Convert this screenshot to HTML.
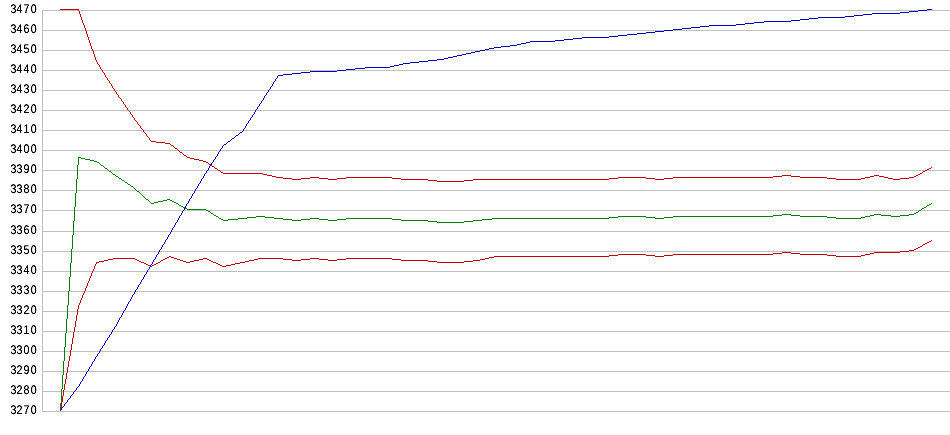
<!DOCTYPE html>
<html><head><meta charset="utf-8"><title>chart</title>
<style>
html,body{margin:0;padding:0;background:#fff;}
body{width:950px;height:435px;overflow:hidden;position:relative;font-family:"Liberation Sans",Arial,sans-serif;}
svg{position:absolute;left:0;top:0;display:block}
.g rect{fill:#c0c0c0}
text{font-family:"Liberation Sans",Arial,sans-serif;font-size:12.5px;fill:#000;letter-spacing:0}
</style></head><body>
<svg width="950" height="435" viewBox="0 0 950 435" shape-rendering="crispEdges">
<rect width="950" height="435" fill="#fff"/>
<g class="g">
<rect x="42" y="10" width="908" height="1"/>
<rect x="42" y="30" width="908" height="1"/>
<rect x="42" y="50" width="908" height="1"/>
<rect x="42" y="70" width="908" height="1"/>
<rect x="42" y="90" width="908" height="1"/>
<rect x="42" y="110" width="908" height="1"/>
<rect x="42" y="130" width="908" height="1"/>
<rect x="42" y="150" width="908" height="1"/>
<rect x="42" y="170" width="908" height="1"/>
<rect x="42" y="190" width="908" height="1"/>
<rect x="42" y="210" width="908" height="1"/>
<rect x="42" y="231" width="908" height="1"/>
<rect x="42" y="251" width="908" height="1"/>
<rect x="42" y="271" width="908" height="1"/>
<rect x="42" y="291" width="908" height="1"/>
<rect x="42" y="311" width="908" height="1"/>
<rect x="42" y="331" width="908" height="1"/>
<rect x="42" y="351" width="908" height="1"/>
<rect x="42" y="371" width="908" height="1"/>
<rect x="42" y="391" width="908" height="1"/>
<rect x="42" y="411" width="908" height="1"/>
<rect x="42" y="10" width="1" height="402"/>
</g>
<path fill="#008000" d="M782 214h9v1h-9zM874 214h7v1h-7zM909 214h5v1h-5zM221 219h2v1h-2zM228 219h10v1h-10zM283 219h9v1h-9zM301 219h9v1h-9zM319 219h9v1h-9zM337 219h9v1h-9zM392 219h9v1h-9zM482 219h10v1h-10zM216 216h2v1h-2zM256 216h9v1h-9zM618 216h28v1h-28zM673 216h100v1h-100zM800 216h27v1h-27zM865 216h5v1h-5zM891 216h9v1h-9zM223 220h5v1h-5zM292 220h9v1h-9zM328 220h9v1h-9zM401 220h27v1h-27zM473 220h9v1h-9zM437 222h27v1h-27zM219 218h2v1h-2zM238 218h9v1h-9zM274 218h9v1h-9zM310 218h9v1h-9zM346 218h46v1h-46zM492 218h117v1h-117zM655 218h9v1h-9zM836 218h25v1h-25zM214 215h2v1h-2zM773 215h9v1h-9zM791 215h9v1h-9zM870 215h4v1h-4zM881 215h10v1h-10zM900 215h9v1h-9zM247 217h9v1h-9zM265 217h9v1h-9zM609 217h9v1h-9zM646 217h9v1h-9zM664 217h9v1h-9zM827 217h9v1h-9zM861 217h4v1h-4zM206 210h2v1h-2zM919 210h2v1h-2zM183 207h2v1h-2zM924 207h2v1h-2zM113 174h2v1h-2zM154 202h4v1h-4zM174 202h2v1h-2zM187 209h19v1h-19zM179 205h2v1h-2zM927 205h2v1h-2zM116 176h2v1h-2zM78 157h3v1h-3zM97 162h2v1h-2zM131 186h2v1h-2zM151 203h3v1h-3zM176 203h2v1h-2zM94 161h3v1h-3zM146 199h2v1h-2zM167 199h3v1h-3zM81 158h4v1h-4zM428 221h9v1h-9zM464 221h9v1h-9zM85 159h5v1h-5zM119 178h2v1h-2zM163 200h4v1h-4zM170 200h2v1h-2zM125 182h2v1h-2zM90 160h4v1h-4zM916 212h2v1h-2zM105 168h2v1h-2zM137 191h2v1h-2zM122 180h2v1h-2zM929 204h2v1h-2zM185 208h2v1h-2zM922 208h2v1h-2zM208 211h2v1h-2zM158 201h5v1h-5zM172 201h2v1h-2zM128 184h2v1h-2zM181 206h2v1h-2zM109 171h2v1h-2zM211 213h2v1h-2zM914 213h2v1h-2zM101 165h2v1h-2zM74 207h1v14h-1zM213 214h1v1h-1zM66 319h1v14h-1zM62 375h1v14h-1zM60 403h1v8h-1zM67 305h1v14h-1zM73 221h1v14h-1zM218 217h1v1h-1zM77 165h1v14h-1zM61 389h1v14h-1zM75 193h1v14h-1zM150 202h1v1h-1zM921 209h1v1h-1zM72 235h1v14h-1zM78 158h1v7h-1zM112 173h1v1h-1zM76 179h1v14h-1zM931 203h1v1h-1zM65 333h1v14h-1zM71 249h1v14h-1zM108 170h1v1h-1zM127 183h1v1h-1zM130 185h1v1h-1zM142 195h1v1h-1zM70 263h1v14h-1zM64 347h1v14h-1zM148 200h1v1h-1zM63 361h1v14h-1zM210 212h1v1h-1zM141 194h1v1h-1zM118 177h1v1h-1zM104 167h1v1h-1zM135 189h1v1h-1zM111 172h1v1h-1zM178 204h1v1h-1zM103 166h1v1h-1zM140 193h1v1h-1zM69 277h1v14h-1zM918 211h1v1h-1zM149 201h1v1h-1zM68 291h1v14h-1zM144 197h1v1h-1zM926 206h1v1h-1zM99 163h1v1h-1zM121 179h1v1h-1zM134 188h1v1h-1zM143 196h1v1h-1zM100 164h1v1h-1zM124 181h1v1h-1zM115 175h1v1h-1zM145 198h1v1h-1zM139 192h1v1h-1zM133 187h1v1h-1zM107 169h1v1h-1zM136 190h1v1h-1z"/>
<path fill="#c00000" d="M609 255h9v1h-9zM646 255h9v1h-9zM664 255h9v1h-9zM827 255h9v1h-9zM861 255h4v1h-4zM99 261h5v1h-5zM139 261h2v1h-2zM183 261h3v1h-3zM190 261h4v1h-4zM211 261h2v1h-2zM245 261h4v1h-4zM428 261h9v1h-9zM464 261h9v1h-9zM618 254h28v1h-28zM673 254h100v1h-100zM800 254h27v1h-27zM865 254h5v1h-5zM144 263h2v1h-2zM156 263h2v1h-2zM216 263h2v1h-2zM235 263h5v1h-5zM104 260h4v1h-4zM137 260h2v1h-2zM161 260h2v1h-2zM180 260h3v1h-3zM194 260h5v1h-5zM209 260h2v1h-2zM249 260h5v1h-5zM292 260h9v1h-9zM328 260h9v1h-9zM401 260h27v1h-27zM473 260h7v1h-7zM113 258h22v1h-22zM165 258h2v1h-2zM174 258h3v1h-3zM203 258h4v1h-4zM258 258h25v1h-25zM310 258h9v1h-9zM346 258h46v1h-46zM485 258h4v1h-4zM169 256h2v1h-2zM494 256h115v1h-115zM655 256h9v1h-9zM836 256h25v1h-25zM773 253h9v1h-9zM791 253h9v1h-9zM870 253h4v1h-4zM108 259h5v1h-5zM135 259h2v1h-2zM163 259h2v1h-2zM177 259h3v1h-3zM199 259h4v1h-4zM207 259h2v1h-2zM254 259h4v1h-4zM283 259h9v1h-9zM301 259h9v1h-9zM319 259h9v1h-9zM337 259h9v1h-9zM392 259h9v1h-9zM480 259h5v1h-5zM96 262h3v1h-3zM141 262h3v1h-3zM158 262h2v1h-2zM186 262h4v1h-4zM213 262h3v1h-3zM240 262h5v1h-5zM437 262h27v1h-27zM148 265h2v1h-2zM152 265h2v1h-2zM220 265h2v1h-2zM226 265h5v1h-5zM900 251h9v1h-9zM782 252h9v1h-9zM874 252h26v1h-26zM146 264h2v1h-2zM154 264h2v1h-2zM218 264h2v1h-2zM231 264h4v1h-4zM927 242h2v1h-2zM918 247h2v1h-2zM923 244h2v1h-2zM167 257h2v1h-2zM171 257h3v1h-3zM489 257h5v1h-5zM150 266h2v1h-2zM222 266h4v1h-4zM914 249h2v1h-2zM929 241h2v1h-2zM925 243h2v1h-2zM909 250h5v1h-5zM920 246h2v1h-2zM916 248h2v1h-2zM160 261h1v1h-1zM60 408h1v3h-1zM78 305h1v4h-1zM96 263h1v1h-1zM64 384h1v6h-1zM931 240h1v1h-1zM94 266h1v3h-1zM65 379h1v5h-1zM69 356h1v5h-1zM95 264h1v2h-1zM87 283h1v3h-1zM86 286h1v2h-1zM74 327h1v5h-1zM68 361h1v6h-1zM73 332h1v6h-1zM63 390h1v6h-1zM77 309h1v6h-1zM85 288h1v3h-1zM93 269h1v2h-1zM72 338h1v6h-1zM76 315h1v6h-1zM67 367h1v6h-1zM71 344h1v6h-1zM81 298h1v2h-1zM84 291h1v2h-1zM75 321h1v6h-1zM61 402h1v6h-1zM62 396h1v6h-1zM66 373h1v6h-1zM80 300h1v3h-1zM922 245h1v1h-1zM92 271h1v2h-1zM70 350h1v6h-1zM83 293h1v2h-1zM82 295h1v3h-1zM91 273h1v3h-1zM90 276h1v2h-1zM79 303h1v2h-1zM89 278h1v3h-1zM88 281h1v2h-1z"/>
<path fill="#0000c0" d="M918 10h9v1h-9zM691 27h9v1h-9zM709 25h27v1h-27zM872 13h28v1h-28zM337 70h9v1h-9zM530 41h25v1h-25zM403 63h7v1h-7zM475 51h5v1h-5zM700 26h9v1h-9zM510 45h7v1h-7zM646 32h9v1h-9zM365 67h25v1h-25zM355 68h10v1h-10zM764 21h27v1h-27zM310 71h27v1h-27zM818 17h27v1h-27zM283 74h9v1h-9zM419 61h9v1h-9zM927 9h5v1h-5zM655 31h9v1h-9zM390 66h4v1h-4zM582 37h27v1h-27zM494 47h7v1h-7zM900 12h9v1h-9zM346 69h9v1h-9zM462 54h4v1h-4zM555 40h9v1h-9zM410 62h9v1h-9zM301 72h9v1h-9zM800 19h9v1h-9zM489 48h5v1h-5zM618 35h9v1h-9zM754 22h10v1h-10zM609 36h9v1h-9zM682 28h9v1h-9zM564 39h9v1h-9zM791 20h9v1h-9zM526 42h4v1h-4zM673 29h9v1h-9zM399 64h4v1h-4zM448 57h5v1h-5zM292 73h9v1h-9zM428 60h9v1h-9zM664 30h9v1h-9zM501 46h9v1h-9zM637 33h9v1h-9zM854 15h9v1h-9zM437 59h7v1h-7zM809 18h9v1h-9zM736 24h9v1h-9zM457 55h5v1h-5zM573 38h9v1h-9zM471 52h4v1h-4zM745 23h9v1h-9zM444 58h4v1h-4zM845 16h9v1h-9zM909 11h9v1h-9zM485 49h4v1h-4zM453 56h4v1h-4zM278 75h5v1h-5zM240 132h2v1h-2zM863 14h9v1h-9zM480 50h5v1h-5zM521 43h5v1h-5zM394 65h5v1h-5zM466 53h5v1h-5zM517 44h4v1h-4zM627 34h10v1h-10zM224 144h2v1h-2zM228 141h2v1h-2zM232 138h2v1h-2zM236 135h2v1h-2zM60 410h1v1h-1zM176 222h1v1h-1zM132 295h1v2h-1zM264 96h1v2h-1zM212 162h1v1h-1zM215 157h1v2h-1zM168 235h1v2h-1zM235 136h1v1h-1zM112 330h1v2h-1zM92 362h1v2h-1zM271 86h1v1h-1zM160 249h1v1h-1zM251 117h1v1h-1zM139 284h1v1h-1zM239 133h1v1h-1zM128 302h1v2h-1zM243 129h1v2h-1zM99 351h1v2h-1zM191 196h1v2h-1zM164 242h1v2h-1zM258 106h1v1h-1zM88 369h1v2h-1zM156 255h1v2h-1zM135 290h1v2h-1zM68 399h1v1h-1zM127 304h1v2h-1zM80 382h1v2h-1zM195 189h1v2h-1zM63 406h1v1h-1zM95 357h1v2h-1zM187 203h1v1h-1zM84 376h1v1h-1zM267 92h1v1h-1zM179 216h1v2h-1zM152 262h1v2h-1zM131 297h1v2h-1zM123 311h1v2h-1zM76 388h1v2h-1zM115 326h1v1h-1zM91 364h1v2h-1zM274 81h1v1h-1zM183 210h1v1h-1zM263 98h1v2h-1zM175 223h1v2h-1zM222 146h1v2h-1zM146 272h1v2h-1zM119 318h1v2h-1zM211 163h1v2h-1zM111 332h1v2h-1zM247 123h1v1h-1zM270 87h1v2h-1zM250 118h1v2h-1zM105 341h1v2h-1zM171 230h1v2h-1zM218 152h1v2h-1zM198 184h1v2h-1zM254 112h1v2h-1zM277 76h1v2h-1zM87 371h1v1h-1zM167 237h1v2h-1zM102 346h1v2h-1zM194 191h1v2h-1zM71 395h1v1h-1zM94 359h1v2h-1zM83 377h1v2h-1zM98 353h1v1h-1zM190 198h1v1h-1zM182 211h1v2h-1zM79 384h1v2h-1zM150 265h1v2h-1zM126 306h1v2h-1zM142 279h1v1h-1zM118 320h1v2h-1zM207 170h1v1h-1zM134 292h1v2h-1zM74 391h1v1h-1zM186 204h1v2h-1zM266 93h1v2h-1zM205 173h1v1h-1zM178 218h1v2h-1zM170 232h1v2h-1zM226 143h1v1h-1zM122 313h1v2h-1zM214 159h1v1h-1zM138 285h1v2h-1zM114 327h1v2h-1zM230 140h1v1h-1zM273 82h1v2h-1zM130 299h1v2h-1zM253 114h1v1h-1zM201 179h1v2h-1zM174 225h1v2h-1zM101 348h1v1h-1zM257 107h1v2h-1zM260 103h1v1h-1zM90 366h1v1h-1zM70 396h1v2h-1zM82 379h1v2h-1zM153 260h1v2h-1zM62 407h1v1h-1zM197 186h1v2h-1zM97 354h1v2h-1zM189 199h1v2h-1zM86 372h1v2h-1zM217 154h1v2h-1zM149 267h1v2h-1zM193 193h1v1h-1zM73 392h1v2h-1zM185 206h1v2h-1zM221 148h1v1h-1zM177 220h1v2h-1zM145 274h1v1h-1zM65 403h1v1h-1zM137 287h1v2h-1zM208 168h1v2h-1zM181 213h1v2h-1zM108 337h1v1h-1zM141 280h1v2h-1zM256 109h1v1h-1zM89 367h1v2h-1zM125 308h1v2h-1zM204 174h1v2h-1zM104 343h1v2h-1zM61 408h1v2h-1zM93 361h1v1h-1zM252 115h1v2h-1zM85 374h1v2h-1zM121 315h1v2h-1zM200 181h1v2h-1zM213 160h1v2h-1zM272 84h1v2h-1zM220 149h1v2h-1zM117 322h1v2h-1zM276 78h1v1h-1zM144 275h1v2h-1zM64 404h1v2h-1zM196 188h1v1h-1zM148 269h1v1h-1zM140 282h1v2h-1zM203 176h1v2h-1zM100 349h1v2h-1zM192 194h1v2h-1zM259 104h1v2h-1zM184 208h1v2h-1zM163 244h1v1h-1zM107 338h1v2h-1zM246 124h1v2h-1zM188 201h1v2h-1zM159 250h1v2h-1zM216 156h1v1h-1zM151 264h1v1h-1zM275 79h1v2h-1zM234 137h1v1h-1zM72 394h1v1h-1zM155 257h1v2h-1zM223 145h1v1h-1zM67 400h1v2h-1zM262 100h1v1h-1zM227 142h1v1h-1zM147 270h1v2h-1zM136 289h1v1h-1zM210 165h1v1h-1zM199 183h1v1h-1zM96 356h1v1h-1zM269 89h1v1h-1zM143 277h1v2h-1zM238 134h1v1h-1zM206 171h1v2h-1zM103 345h1v1h-1zM242 131h1v1h-1zM75 390h1v1h-1zM166 239h1v1h-1zM231 139h1v1h-1zM158 252h1v2h-1zM110 334h1v1h-1zM249 120h1v1h-1zM162 245h1v2h-1zM219 151h1v1h-1zM245 126h1v2h-1zM78 386h1v1h-1zM106 340h1v1h-1zM265 95h1v1h-1zM202 178h1v1h-1zM261 101h1v2h-1zM173 227h1v1h-1zM165 240h1v2h-1zM154 259h1v1h-1zM133 294h1v1h-1zM66 402h1v1h-1zM268 90h1v2h-1zM248 121h1v2h-1zM169 234h1v1h-1zM161 247h1v2h-1zM129 301h1v1h-1zM113 329h1v1h-1zM69 398h1v1h-1zM81 381h1v1h-1zM209 166h1v2h-1zM109 335h1v2h-1zM172 228h1v2h-1zM116 324h1v2h-1zM255 110h1v2h-1zM244 128h1v1h-1zM157 254h1v1h-1zM120 317h1v1h-1zM180 215h1v1h-1zM124 310h1v1h-1zM77 387h1v1h-1z"/>
<path fill="#c00000" d="M283 178h9v1h-9zM301 178h9v1h-9zM319 178h9v1h-9zM337 178h9v1h-9zM392 178h9v1h-9zM609 178h9v1h-9zM646 178h9v1h-9zM664 178h9v1h-9zM827 178h9v1h-9zM861 178h4v1h-4zM888 178h5v1h-5zM900 178h9v1h-9zM194 159h5v1h-5zM156 142h9v1h-9zM276 177h7v1h-7zM310 177h9v1h-9zM346 177h46v1h-46zM618 177h28v1h-28zM673 177h100v1h-100zM800 177h27v1h-27zM865 177h5v1h-5zM884 177h4v1h-4zM909 177h5v1h-5zM292 179h9v1h-9zM328 179h9v1h-9zM401 179h27v1h-27zM473 179h136v1h-136zM655 179h9v1h-9zM836 179h25v1h-25zM893 179h7v1h-7zM272 176h4v1h-4zM773 176h9v1h-9zM791 176h9v1h-9zM870 176h4v1h-4zM879 176h5v1h-5zM914 176h2v1h-2zM218 170h2v1h-2zM925 170h2v1h-2zM223 173h40v1h-40zM920 173h2v1h-2zM437 181h27v1h-27zM215 168h2v1h-2zM929 168h2v1h-2zM151 141h5v1h-5zM212 166h2v1h-2zM199 160h4v1h-4zM221 172h2v1h-2zM60 9h19v1h-19zM428 180h9v1h-9zM464 180h9v1h-9zM203 161h3v1h-3zM165 143h5v1h-5zM206 162h2v1h-2zM267 175h5v1h-5zM782 175h9v1h-9zM874 175h5v1h-5zM916 175h2v1h-2zM923 171h2v1h-2zM190 158h4v1h-4zM263 174h4v1h-4zM918 174h2v1h-2zM184 155h2v1h-2zM187 157h3v1h-3zM927 169h2v1h-2zM180 152h2v1h-2zM175 148h2v1h-2zM209 164h2v1h-2zM171 145h2v1h-2zM118 95h1v2h-1zM93 51h1v3h-1zM86 31h1v3h-1zM177 149h1v1h-1zM137 122h1v2h-1zM178 150h1v1h-1zM211 165h1v1h-1zM122 101h1v1h-1zM89 40h1v3h-1zM126 107h1v1h-1zM922 172h1v1h-1zM140 126h1v2h-1zM85 28h1v3h-1zM141 128h1v1h-1zM100 67h1v2h-1zM121 99h1v2h-1zM173 146h1v1h-1zM125 105h1v2h-1zM174 147h1v1h-1zM79 11h1v3h-1zM139 125h1v1h-1zM92 49h1v2h-1zM220 171h1v1h-1zM96 60h1v2h-1zM99 65h1v2h-1zM107 78h1v2h-1zM81 17h1v3h-1zM143 130h1v2h-1zM102 70h1v2h-1zM95 57h1v3h-1zM103 72h1v1h-1zM124 104h1v1h-1zM106 77h1v1h-1zM127 108h1v2h-1zM88 37h1v3h-1zM128 110h1v1h-1zM217 169h1v1h-1zM179 151h1v1h-1zM98 64h1v1h-1zM101 69h1v1h-1zM123 102h1v2h-1zM87 34h1v3h-1zM80 14h1v3h-1zM91 46h1v3h-1zM142 129h1v1h-1zM84 25h1v3h-1zM105 75h1v2h-1zM97 62h1v2h-1zM109 81h1v2h-1zM94 54h1v3h-1zM131 114h1v1h-1zM208 163h1v1h-1zM214 167h1v1h-1zM931 167h1v1h-1zM90 43h1v3h-1zM83 23h1v2h-1zM104 73h1v2h-1zM112 86h1v2h-1zM108 80h1v1h-1zM116 92h1v2h-1zM130 112h1v2h-1zM144 132h1v1h-1zM145 133h1v1h-1zM82 20h1v3h-1zM170 144h1v1h-1zM111 84h1v2h-1zM115 91h1v1h-1zM186 156h1v1h-1zM114 89h1v2h-1zM129 111h1v1h-1zM132 115h1v2h-1zM133 117h1v1h-1zM78 10h1v1h-1zM147 136h1v1h-1zM110 83h1v1h-1zM146 134h1v2h-1zM113 88h1v1h-1zM135 120h1v1h-1zM136 121h1v1h-1zM117 94h1v1h-1zM134 118h1v2h-1zM149 138h1v2h-1zM150 140h1v1h-1zM120 98h1v1h-1zM119 97h1v1h-1zM182 153h1v1h-1zM183 154h1v1h-1zM138 124h1v1h-1zM148 137h1v1h-1z"/>
<defs><filter id="crisp" x="0" y="0" width="60" height="435" filterUnits="userSpaceOnUse" color-interpolation-filters="sRGB"><feComponentTransfer><feFuncA type="linear" slope="1.55" intercept="-0.08"/></feComponentTransfer></filter></defs>
<g shape-rendering="auto" text-rendering="geometricPrecision" filter="url(#crisp)">
<text transform="scale(.85 1)" x="12.24 19.53 27.7 36.3" y="13">3470</text>
<text transform="scale(.85 1)" x="12.24 19.53 27.7 36.3" y="33">3460</text>
<text transform="scale(.85 1)" x="12.24 19.53 27.7 36.3" y="53">3450</text>
<text transform="scale(.85 1)" x="12.24 19.53 27.7 36.3" y="73">3440</text>
<text transform="scale(.85 1)" x="12.24 19.53 27.7 36.3" y="93">3430</text>
<text transform="scale(.85 1)" x="12.24 19.53 27.7 36.3" y="113">3420</text>
<text transform="scale(.85 1)" x="12.24 19.53 27.7 36.3" y="133">3410</text>
<text transform="scale(.85 1)" x="12.24 19.53 27.7 36.3" y="153">3400</text>
<text transform="scale(.85 1)" x="12.24 19.53 27.7 36.3" y="173">3390</text>
<text transform="scale(.85 1)" x="12.24 19.53 27.7 36.3" y="193">3380</text>
<text transform="scale(.85 1)" x="12.24 19.53 27.7 36.3" y="213">3370</text>
<text transform="scale(.85 1)" x="12.24 19.53 27.7 36.3" y="234">3360</text>
<text transform="scale(.85 1)" x="12.24 19.53 27.7 36.3" y="254">3350</text>
<text transform="scale(.85 1)" x="12.24 19.53 27.7 36.3" y="274">3340</text>
<text transform="scale(.85 1)" x="12.24 19.53 27.7 36.3" y="294">3330</text>
<text transform="scale(.85 1)" x="12.24 19.53 27.7 36.3" y="314">3320</text>
<text transform="scale(.85 1)" x="12.24 19.53 27.7 36.3" y="334">3310</text>
<text transform="scale(.85 1)" x="12.24 19.53 27.7 36.3" y="354">3300</text>
<text transform="scale(.85 1)" x="12.24 19.53 27.7 36.3" y="374">3290</text>
<text transform="scale(.85 1)" x="12.24 19.53 27.7 36.3" y="394">3280</text>
<text transform="scale(.85 1)" x="12.24 19.53 27.7 36.3" y="414">3270</text>
</g></svg></body></html>
